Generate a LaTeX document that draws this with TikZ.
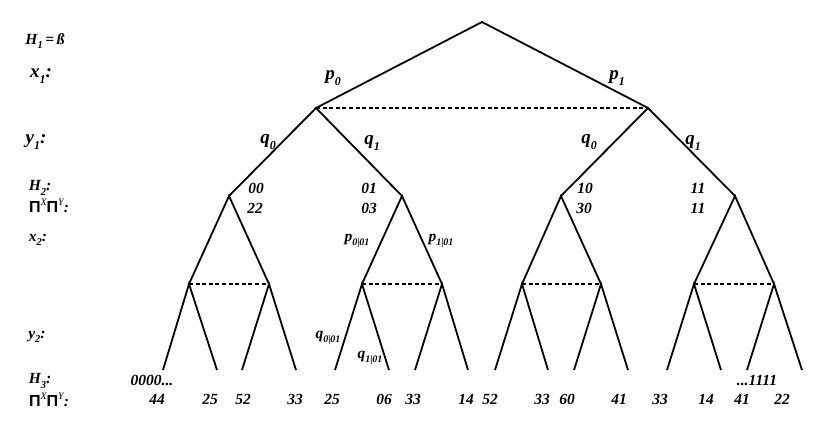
\documentclass[tikz,border=0pt]{standalone}
\usepackage{fontspec}
\setmainfont{Liberation Serif}
\newfontfamily\pisans{Liberation Sans}
\newcommand\bsub[1]{\raisebox{-0.28em}{\fontsize{12}{12}\selectfont #1}}
\newcommand\ssub[1]{\raisebox{-0.28em}{\fontsize{10.5}{10.5}\selectfont #1}}
\newcommand\tsub[1]{\raisebox{-0.3em}{\fontsize{10}{10}\selectfont #1}}
\newcommand\pipi{{\pisans\upshape\bfseries\fontsize{16}{16}\selectfont Π}\raisebox{0.45em}{\fontsize{10}{10}\selectfont\mdseries X}{\pisans\upshape\bfseries\fontsize{16}{16}\selectfont Π}\raisebox{0.45em}{\fontsize{10}{10}\selectfont\mdseries Y}:}
\begin{document}
\begin{tikzpicture}[x=1pt,y=-1pt,
  edge/.style={line width=1.8pt, line join=miter},
  hline/.style={line width=1.3pt, dash pattern=on 4pt off 2.6pt},
  lbl/.style={font=\fontsize{19}{19}\selectfont\bfseries\itshape, inner sep=0pt},
  sml/.style={font=\fontsize{15.5}{15.5}\selectfont\bfseries\itshape, inner sep=0pt}]
\useasboundingbox (0,0) rectangle (830,436);
% tree nodes
\coordinate (r) at (482,22);
\coordinate (a0) at (316,108); \coordinate (a1) at (648,108);
\coordinate (b00) at (229,196); \coordinate (b01) at (402,196);
\coordinate (b10) at (561,196); \coordinate (b11) at (735,196);
\coordinate (c000) at (189,284); \coordinate (c001) at (269,284);
\coordinate (c010) at (362,284); \coordinate (c011) at (442,284);
\coordinate (c100) at (522,284); \coordinate (c101) at (601,284);
\coordinate (c110) at (694,284); \coordinate (c111) at (774,284);
\coordinate (l1) at (163,370); \coordinate (l2) at (217,370);
\coordinate (l3) at (242,370); \coordinate (l4) at (296,370);
\coordinate (l5) at (335,370); \coordinate (l6) at (389,370);
\coordinate (l7) at (415,370); \coordinate (l8) at (468,370);
\coordinate (l9) at (495,370); \coordinate (l10) at (548,370);
\coordinate (l11) at (574,370); \coordinate (l12) at (628,370);
\coordinate (l13) at (667,370); \coordinate (l14) at (721,370);
\coordinate (l15) at (747,370); \coordinate (l16) at (802,370);
% edges
\draw[edge] (a0) -- (r) -- (a1);
\draw[edge] (b00) -- (a0) -- (b01);
\draw[edge] (b10) -- (a1) -- (b11);
\draw[edge] (c000) -- (b00) -- (c001);
\draw[edge] (c010) -- (b01) -- (c011);
\draw[edge] (c100) -- (b10) -- (c101);
\draw[edge] (c110) -- (b11) -- (c111);
\draw[edge] (l1) -- (c000) -- (l2);
\draw[edge] (l3) -- (c001) -- (l4);
\draw[edge] (l5) -- (c010) -- (l6);
\draw[edge] (l7) -- (c011) -- (l8);
\draw[edge] (l9) -- (c100) -- (l10);
\draw[edge] (l11) -- (c101) -- (l12);
\draw[edge] (l13) -- (c110) -- (l14);
\draw[edge] (l15) -- (c111) -- (l16);
% information sets
\draw[hline] (a0) -- (a1);
\draw[hline] (c000) -- (c001);
\draw[hline] (c010) -- (c011);
\draw[hline] (c100) -- (c101);
\draw[hline] (c110) -- (c111);
% left labels
\node[sml] (tH1) at (45,41) {H\ssub{1}\,=\,ß};
\node[lbl] (tx1) at (41,76) {x\bsub{1}:};
\node[lbl] (ty1) at (36,142) {y\bsub{1}:};
\node[sml] (tH2) at (40,188) {H\ssub{2}:};
\node[sml] (tPi2) at (49,206) {\pipi};
\node[sml] (tx2) at (38,240) {x\ssub{2}:};
\node[sml] (ty2) at (37,337) {y\ssub{2}:};
\node[sml] (tH3) at (40,381) {H\ssub{3}:};
\node[sml] (tPi3) at (49,400) {\pipi};
% edge labels, level 1
\node[lbl] (p0) at (333,78) {p\bsub{0}};
\node[lbl] (p1) at (617,78) {p\bsub{1}};
\node[lbl] (q0a) at (268,142) {q\bsub{0}};
\node[lbl] (q1a) at (372,143) {q\bsub{1}};
\node[lbl] (q0b) at (589,142) {q\bsub{0}};
\node[lbl] (q1b) at (693,143) {q\bsub{1}};
% H2 histories and payoffs
\node[sml] (h00) at (256,188) {00};
\node[sml] (v00) at (255,208) {22};
\node[sml] (h01) at (369,188) {01};
\node[sml] (v01) at (369,208) {03};
\node[sml] (h10) at (585,188) {10};
\node[sml] (v10) at (584,208) {30};
\node[sml] (h11) at (698,188) {11};
\node[sml] (v11) at (698,208) {11};
% level 2 labels
\node[sml] (p001) at (357,241) {p\tsub{0|01}};
\node[sml] (p101) at (441,241) {p\tsub{1|01}};
\node[sml] (q001) at (328,338) {q\tsub{0|01}};
\node[sml] (q101) at (370,358) {q\tsub{1|01}};
% H3
\node[sml] (h0000) at (152,380) {0000...};
\node[sml] (h1111) at (757,380) {...1111};
% payoffs
\foreach \n/\x/\t in {1/157/44,2/210/25,3/243/52,4/295/33,5/332/25,6/384/06,7/413/33,8/466/14,9/490/52,10/542/33,11/567/60,12/619/41,13/660/33,14/706/14,15/742/41,16/782/22}
  \node[sml] (v\n) at (\x,399) {\t};
\end{tikzpicture}
\end{document}
